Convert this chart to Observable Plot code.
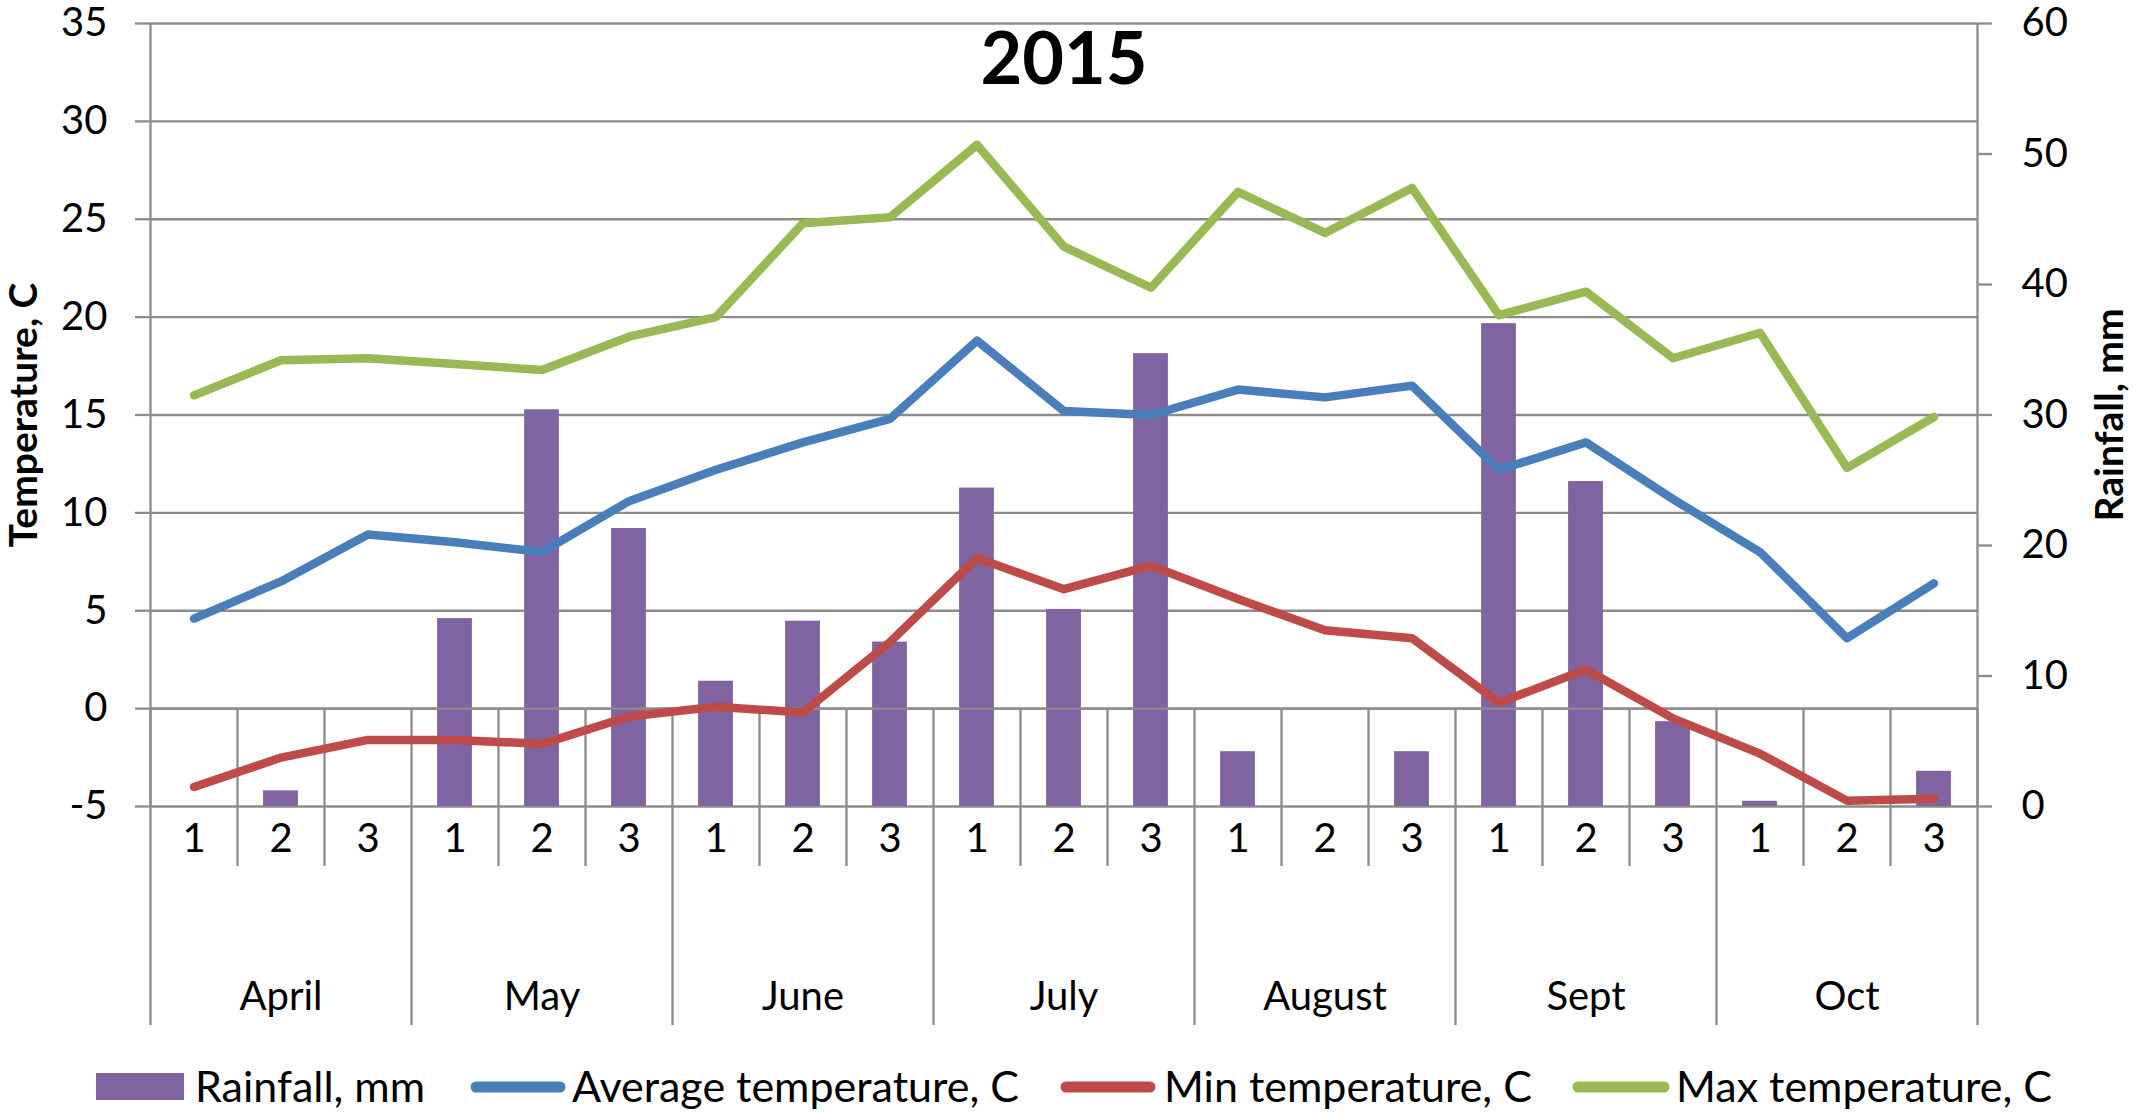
<!DOCTYPE html>
<html>
<head>
<meta charset="utf-8">
<script src="https://cdn.jsdelivr.net/npm/d3@7"></script>
<script src="https://cdn.jsdelivr.net/npm/@observablehq/plot@0.6"></script>
<style>
  html, body { margin: 0; padding: 0; background: #fff; }
  #wrap { position: relative; width: 2138px; height: 1114px; font-family: Lato, "Open Sans", sans-serif; }
  #chart svg { display: block; }
  #legend { position: absolute; left: 0; top: 0; }
</style>
</head>
<body>
<div id="wrap">
  <div id="chart"></div>
  <svg id="legend" width="2138" height="1114"></svg>
</div>
<script>
// ---- data ----
const title = "2015";
const months = ["April", "May", "June", "July", "August", "Sept", "Oct"];
const dekads = ["1", "2", "3"];
const rainfall = [0, 1.2, 0, 14.4, 30.4, 21.3, 9.6, 14.2, 12.6, 24.4, 15.1, 34.7, 4.2, 0, 4.2, 37.0, 24.9, 6.5, 0.4, 0, 2.7];
const avgTemp  = [4.6, 6.5, 8.9, 8.5, 8.0, 10.6, 12.2, 13.6, 14.8, 18.8, 15.2, 15.0, 16.3, 15.9, 16.5, 12.2, 13.6, 10.7, 8.0, 3.6, 6.4];
const minTemp  = [-4.0, -2.5, -1.6, -1.6, -1.8, -0.4, 0.1, -0.2, 3.4, 7.7, 6.1, 7.3, 5.6, 4.0, 3.6, 0.3, 2.0, -0.5, -2.3, -4.7, -4.6];
const maxTemp  = [16.0, 17.8, 17.9, 17.6, 17.3, 19.0, 20.0, 24.8, 25.1, 28.8, 23.6, 21.5, 26.4, 24.3, 26.6, 20.1, 21.3, 17.9, 19.2, 12.3, 14.9];
const tempTicks = [-5, 0, 5, 10, 15, 20, 25, 30, 35];
const rainTicks = [0, 10, 20, 30, 40, 50, 60];
const seriesNames = ["Rainfall, mm", "Average temperature, C", "Min temperature, C", "Max temperature, C"];
const leftTitle = "Temperature, C";
const rightTitle = "Rainfall, mm";

// ---- style ----
const colors = { rain: "#8064A2", avg: "#4A7EBB", min: "#BE4B48", max: "#98B954" };
const grid = "#8c8c8c";
const gw = 2.3;
const lw = 8.5;

// ---- derived ----
const n = rainfall.length;
const rows = rainfall.map((r, i) => ({
  i, month: months[Math.floor(i / 3)], dekad: dekads[i % 3],
  rain: r, avg: avgTemp[i], min: minTemp[i], max: maxTemp[i]
}));
const tMin = tempTicks[0], tMax = tempTicks[tempTicks.length - 1];
const rMin = rainTicks[0], rMax = rainTicks[rainTicks.length - 1];
const rainToT = r => tMin + (r - rMin) * (tMax - tMin) / (rMax - rMin);
const tToRain = t => rMin + (t - tMin) * (rMax - rMin) / (tMax - tMin);
const bounds = d3.range(n + 1).map(k => k - 0.5);
const innerBounds = bounds.filter((b, k) => k % 3 !== 0);
const monthBounds = bounds.filter((b, k) => k % 3 === 0);
const monthCenters = months.map((m, k) => 3 * k + 1);

const W = 2138, H = 1050;
const chart = Plot.plot({
  width: W, height: H,
  marginLeft: 150, marginRight: 161, marginTop: 23, marginBottom: H - 806,
  x: { type: "linear", domain: [-0.5, n - 0.5], axis: null },
  y: { domain: [tMin, tMax], axis: null },
  style: { fontFamily: "Lato, 'Open Sans', sans-serif", fontSize: "40px", color: "#000", background: "#fff", overflow: "visible" },
  marks: [
    // horizontal gridlines
    Plot.ruleY(tempTicks, { x1: -0.5, x2: n - 0.5, stroke: grid, strokeWidth: gw }),
    // slot separators inside plot between axis (0) and bottom
    Plot.ruleX(bounds, { y1: tMin, y2: 0, stroke: grid, strokeWidth: gw }),
    // plot frame sides
    Plot.ruleX([bounds[0], bounds[n]], { y1: tMin, y2: tMax, stroke: grid, strokeWidth: gw }),
    // left axis
    Plot.axisY(tempTicks, { anchor: "left", tickSize: 15, tickPadding: 28, label: null, stroke: grid, strokeWidth: gw, fontSize: 40, tickFormat: d => String(d) }),
    // right axis (rainfall)
    Plot.axisY(rainTicks.map(rainToT), { anchor: "right", tickSize: 14, tickPadding: 30, label: null, stroke: grid, strokeWidth: gw, fontSize: 40, tickFormat: t => String(Math.round(tToRain(t))) }),
    // category axis: separators below plot
    Plot.axisX(innerBounds, { anchor: "bottom", tickSize: 60, tickFormat: () => "", label: null, stroke: grid, strokeWidth: gw }),
    Plot.axisX(monthBounds, { anchor: "bottom", tickSize: 219, tickFormat: () => "", label: null, stroke: grid, strokeWidth: gw }),
    // dekad labels
    Plot.axisX(d3.range(n), { anchor: "bottom", tickSize: 0, tickPadding: 17, label: null, fontSize: 40, tickFormat: i => rows[i].dekad }),
    // month labels
    Plot.axisX(monthCenters, { anchor: "bottom", tickSize: 0, tickPadding: 175, label: null, fontSize: 40, tickFormat: v => months[(v - 1) / 3] }),
    // rainfall bars
    Plot.rectY(rows.filter(d => d.rain > 0), { x1: d => d.i - 0.2, x2: d => d.i + 0.2, y1: d => rainToT(0), y2: d => rainToT(d.rain), fill: colors.rain }),
    // category axis line at 0 drawn over bars
    Plot.ruleY([0], { x1: -0.5, x2: n - 0.5, stroke: grid, strokeWidth: gw }),
    // temperature lines
    Plot.line(rows, { x: "i", y: "avg", stroke: colors.avg, strokeWidth: lw, strokeLinejoin: "round", strokeLinecap: "round" }),
    Plot.line(rows, { x: "i", y: "min", stroke: colors.min, strokeWidth: lw, strokeLinejoin: "round", strokeLinecap: "round" }),
    Plot.line(rows, { x: "i", y: "max", stroke: colors.max, strokeWidth: lw, strokeLinejoin: "round", strokeLinecap: "round" }),
    // title
    Plot.text([title], { frameAnchor: "top", dy: 37, lineAnchor: "middle", textAnchor: "middle", fontSize: 72, fontWeight: "bold", fill: "#000" }),
    // axis titles
    Plot.text([leftTitle], { frameAnchor: "left", dx: -126, rotate: -90, textAnchor: "middle", lineAnchor: "middle", fontSize: 39, fontWeight: "bold", fill: "#000" }),
    Plot.text([rightTitle], { frameAnchor: "right", dx: 133, rotate: -90, textAnchor: "middle", lineAnchor: "middle", fontSize: 39, fontWeight: "bold", fill: "#000" })
  ]
});
document.getElementById("chart").appendChild(chart);

// ---- legend ----
const lg = d3.select("#legend");
const legendItems = [
  { name: seriesNames[0], kind: "rect", color: colors.rain, x0: 96, x1: 184, tx: 195 },
  { name: seriesNames[1], kind: "line", color: colors.avg, x0: 471, x1: 565, tx: 572 },
  { name: seriesNames[2], kind: "line", color: colors.min, x0: 1061, x1: 1155, tx: 1164 },
  { name: seriesNames[3], kind: "line", color: colors.max, x0: 1573, x1: 1669, tx: 1676 }
];
const ly = 1087;
for (const it of legendItems) {
  if (it.kind === "rect") {
    lg.append("rect").attr("x", it.x0).attr("y", ly - 14).attr("width", it.x1 - it.x0).attr("height", 27).attr("fill", it.color);
  } else {
    lg.append("line").attr("x1", it.x0 + 5).attr("x2", it.x1 - 5).attr("y1", ly).attr("y2", ly)
      .attr("stroke", it.color).attr("stroke-width", 11).attr("stroke-linecap", "round");
  }
  lg.append("text").attr("x", it.tx).attr("y", ly + 15)
    .attr("font-family", "Lato, 'Open Sans', sans-serif").attr("font-size", 43).attr("fill", "#000")
    .text(it.name);
}
</script>
</body>
</html>
